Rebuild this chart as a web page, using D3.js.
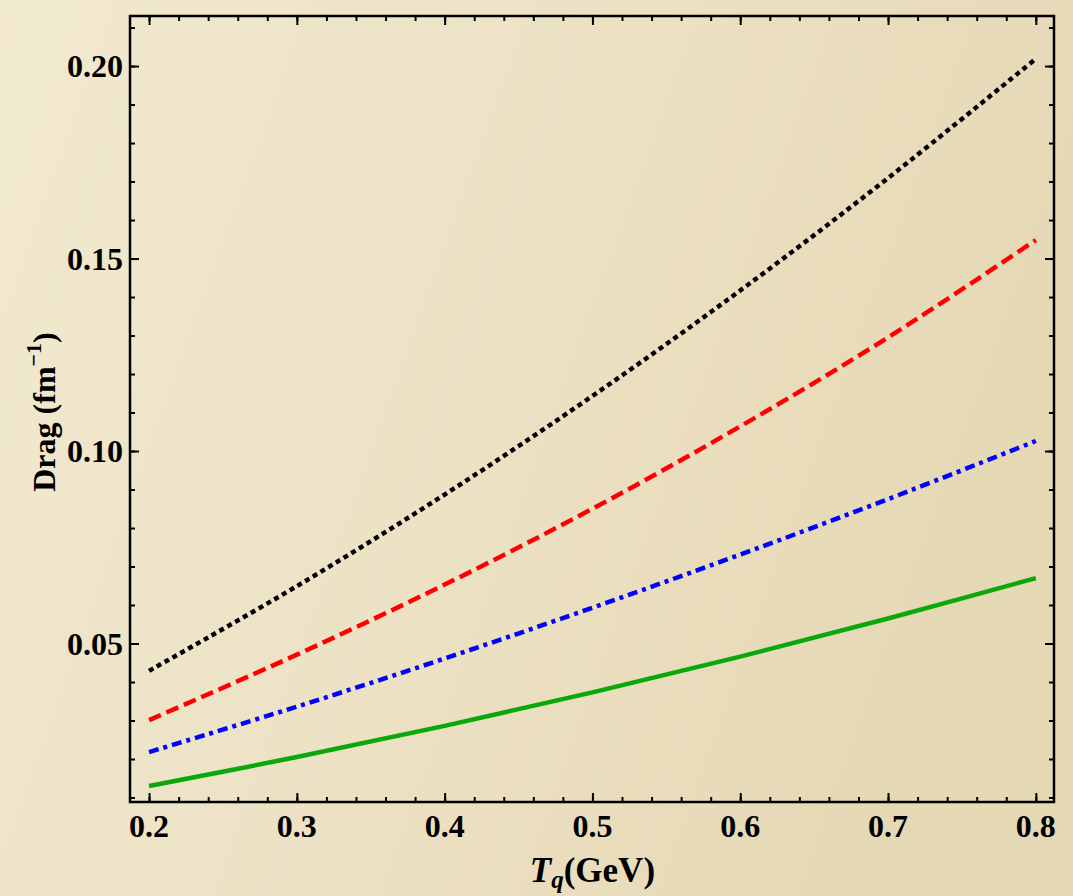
<!DOCTYPE html>
<html>
<head>
<meta charset="utf-8">
<script src="https://cdn.jsdelivr.net/npm/d3@7"></script>
<style>
  body { margin: 0; }
  svg { display: block; }
  text { font-family: "Liberation Serif", "DejaVu Serif", serif; font-weight: bold; fill: #000; }
</style>
</head>
<body>
<svg width="1073" height="896"></svg>
<script>
// temperatures (GeV)
const temps = [0.2, 0.3, 0.4, 0.5, 0.6, 0.7, 0.8]

// drag values (fm^-1)
const dragBlack = [0.0429, 0.0649, 0.0887, 0.1143, 0.1417, 0.1709, 0.2019]
const dragRed   = [0.0301, 0.0471, 0.0653, 0.0850, 0.1064, 0.1295, 0.1548]
const dragBlue  = [0.0218, 0.0336, 0.0461, 0.0593, 0.0731, 0.0875, 0.1026]
const dragGreen = [0.0130, 0.0205, 0.0286, 0.0373, 0.0466, 0.0565, 0.0670]

const xTicks = [0.2, 0.3, 0.4, 0.5, 0.6, 0.7, 0.8]
const yTicks = [0.05, 0.10, 0.15, 0.20]

const series = [
    { values: dragBlack, color: "#000000", dash: "5,4" },
    { values: dragRed,   color: "#ff0000", dash: "13,6" },
    { values: dragBlue,  color: "#0000ff", dash: "10,5,4,5" },
    { values: dragGreen, color: "#0aa80a", dash: null }
]

const svg = d3.select('svg')
const width = +svg.attr('width')
const height = +svg.attr('height')
const margin = { top: 16, right: 19, bottom: 94, left: 130 }
const innerWidth = width - margin.left - margin.right
const innerHeight = height - margin.top - margin.bottom

// paper-like background
const defs = svg.append('defs')
const grad = defs.append('linearGradient').attr('id', 'paper')
    .attr('x1', 0).attr('x2', 1).attr('y1', 0).attr('y2', 0.3)
grad.append('stop').attr('offset', '0%').attr('stop-color', '#f1e9d0')
grad.append('stop').attr('offset', '55%').attr('stop-color', '#ece1c3')
grad.append('stop').attr('offset', '100%').attr('stop-color', '#e5d8b5')
svg.append('rect').attr('width', width).attr('height', height).attr('fill', 'url(#paper)')

const xScale = d3.scaleLinear()
    .domain([0.1871, 0.8123])
    .range([0, innerWidth])

const yScale = d3.scaleLinear()
    .domain([0.00883, 0.2130])
    .range([innerHeight, 0])

const g = svg.append('g')
    .attr('transform', `translate(${margin.left}, ${margin.top})`)

// curves
const line = d3.line()
    .x((d, i) => xScale(temps[i]))
    .y(d => yScale(d))
    .curve(d3.curveCatmullRom)

g.selectAll('.curve')
    .data(series)
    .join('path')
      .attr('class', 'curve')
      .attr('d', d => line(d.values))
      .attr('fill', 'none')
      .attr('stroke', d => d.color)
      .attr('stroke-width', 4.5)
      .attr('stroke-dasharray', d => d.dash)

// minor ticks
const xMinor = d3.range(0.18, 0.83, 0.02).filter(v => v >= xScale.domain()[0] && v <= xScale.domain()[1])
const yMinor = d3.range(0.01, 0.215, 0.01).filter(v => v >= yScale.domain()[0] && v <= yScale.domain()[1])

// axes, ticks pointing inside on all four sides
const tickStyle = sel => {
    sel.select('.domain').remove()
    sel.selectAll('line').attr('stroke', '#000').attr('stroke-width', 2)
    sel.selectAll('text').remove()
}

g.append('g').attr('transform', `translate(0, ${innerHeight})`)
    .call(d3.axisBottom(xScale).tickValues(xMinor).tickSize(-5)).call(tickStyle)
g.append('g').attr('transform', `translate(0, ${innerHeight})`)
    .call(d3.axisBottom(xScale).tickValues(xTicks).tickSize(-9)).call(tickStyle)
g.append('g')
    .call(d3.axisTop(xScale).tickValues(xMinor).tickSize(-5)).call(tickStyle)
g.append('g')
    .call(d3.axisTop(xScale).tickValues(xTicks).tickSize(-9)).call(tickStyle)
g.append('g')
    .call(d3.axisLeft(yScale).tickValues(yMinor).tickSize(-5)).call(tickStyle)
g.append('g')
    .call(d3.axisLeft(yScale).tickValues(yTicks).tickSize(-9)).call(tickStyle)
g.append('g').attr('transform', `translate(${innerWidth}, 0)`)
    .call(d3.axisRight(yScale).tickValues(yMinor).tickSize(-5)).call(tickStyle)
g.append('g').attr('transform', `translate(${innerWidth}, 0)`)
    .call(d3.axisRight(yScale).tickValues(yTicks).tickSize(-9)).call(tickStyle)

// frame
g.append('rect')
    .attr('width', innerWidth)
    .attr('height', innerHeight)
    .attr('fill', 'none')
    .attr('stroke', '#000')
    .attr('stroke-width', 2.5)

// tick labels
g.selectAll('.xlabel')
    .data(xTicks)
    .join('text')
      .attr('class', 'xlabel')
      .attr('x', d => xScale(d))
      .attr('y', innerHeight + 35)
      .attr('text-anchor', 'middle')
      .style('font-size', '32px')
      .text(d => d3.format('.1f')(d))

g.selectAll('.ylabel')
    .data(yTicks)
    .join('text')
      .attr('class', 'ylabel')
      .attr('x', -7)
      .attr('y', d => yScale(d) + 11)
      .attr('text-anchor', 'end')
      .style('font-size', '32px')
      .text(d => d3.format('.2f')(d))

// axis titles
const xt = svg.append('text')
    .attr('x', margin.left + xScale(0.5))
    .attr('y', 882)
    .attr('text-anchor', 'middle')
    .style('font-size', '35px')
xt.append('tspan').style('font-style', 'italic').text('T')
xt.append('tspan').style('font-style', 'italic').style('font-size', '25px').attr('dy', 6).text('q')
xt.append('tspan').attr('dy', -6).text('(GeV)')

const yt = svg.append('text')
    .attr('transform', 'translate(55, 412) rotate(-90)')
    .attr('text-anchor', 'middle')
    .style('font-size', '32px')
yt.append('tspan').text('Drag (fm')
yt.append('tspan').style('font-size', '22px').attr('dy', -14).text('−1')
yt.append('tspan').attr('dy', 14).text(')')
</script>
</body>
</html>
